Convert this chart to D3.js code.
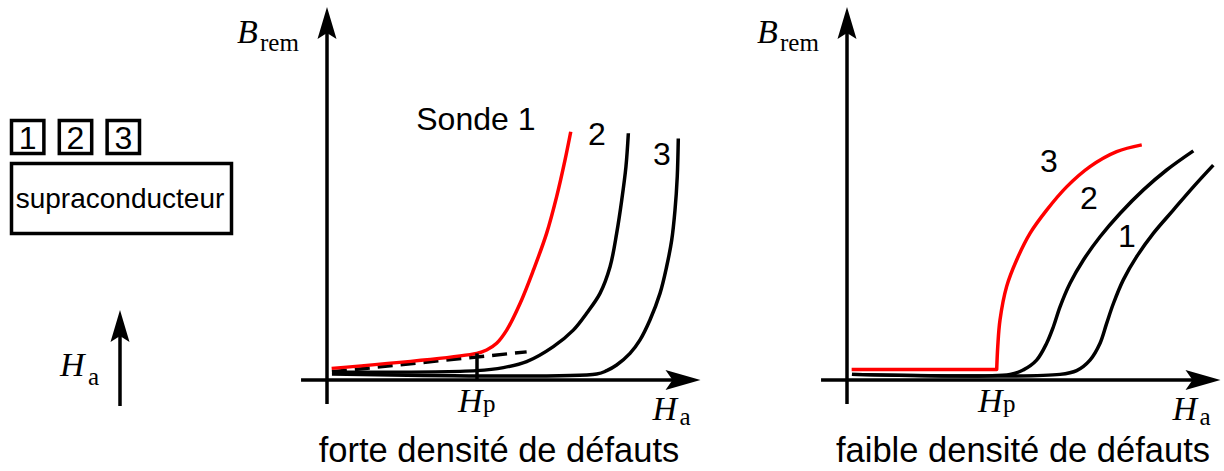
<!DOCTYPE html>
<html><head><meta charset="utf-8">
<script src="https://cdn.jsdelivr.net/npm/d3@7"></script>
<style>html,body{margin:0;padding:0;background:#fff;} svg{display:block}</style>
</head><body>
<svg id="c" width="1224" height="471"></svg>
<script>
// ---------- data ----------
const panelTitles = ["forte densité de défauts", "faible densité de défauts"];
const probeNames = ["1", "2", "3"];
const sampleLabel = "supraconducteur";
const curveLabelsForte = ["Sonde 1", "2", "3"];
const curveLabelsFaible = ["3", "2", "1"];
const HpValue = 1;

// left panel: strong pinning (H in units of Hp, B_rem arbitrary 0..100)
const forte1H = [0.031, 0.998, 1.064, 1.131, 1.198, 1.287, 1.376, 1.464, 1.531, 1.587, 1.625];
const forte1B = [3.1, 7.1, 8.0, 9.8, 13.3, 20.4, 29.3, 39.1, 48.9, 58.7, 66.2];
const forte2H = [0.033, 0.998, 1.176, 1.331, 1.509, 1.642, 1.731, 1.82, 1.887, 1.931, 1.965, 1.993, 2.009];
const forte2B = [2.1, 2.5, 3.3, 4.9, 8.9, 13.3, 17.8, 23.1, 30.2, 39.1, 48.0, 56.9, 65.8];
const forte3H = [0.033, 1.798, 1.865, 1.931, 2.02, 2.087, 2.153, 2.22, 2.264, 2.298, 2.32, 2.335, 2.342];
const forte3B = [1.6, 1.6, 2.5, 4.0, 7.1, 10.7, 16.0, 23.1, 30.2, 37.3, 45.3, 54.2, 64.4];
const forteLinH = [0.033, 1.331];
const forteLinB = [2.2, 7.5];

// right panel: weak pinning
const faible3H = [0.031, 0.998, 1.005, 1.02, 1.064, 1.131, 1.22, 1.331, 1.464, 1.62, 1.798, 1.965];
const faible3B = [2.8, 2.8, 8.9, 16.0, 24.9, 32.0, 39.1, 45.3, 51.5, 56.9, 60.9, 62.7];
const faible2H = [0.033, 1.087, 1.176, 1.264, 1.331, 1.376, 1.42, 1.487, 1.576, 1.687, 1.82, 1.976, 2.131, 2.309];
const faible2B = [1.5, 1.5, 2.7, 5.3, 9.8, 14.2, 19.5, 25.8, 32.0, 38.2, 44.4, 50.7, 56.0, 61.1];
const faible1H = [0.033, 1.42, 1.531, 1.62, 1.687, 1.731, 1.776, 1.842, 1.931, 2.042, 2.175, 2.309, 2.442];
const faible1B = [1.5, 1.5, 2.5, 5.3, 9.8, 15.1, 20.4, 26.7, 32.9, 39.1, 45.3, 51.5, 57.3];

// ---------- drawing ----------
const svg = d3.select("#c");
const RED = "#ff0000";
const SANS = "'Liberation Sans', Arial, sans-serif";
const SERIF = "'Liberation Serif', 'Times New Roman', serif";
const SW = 3.5;

const zip = (xs, ys) => xs.map((x, i) => [x, ys[i]]);

function stealthRight(tx, ty) {
  return `M${tx},${ty} L${tx-35},${ty-10} L${tx-28},${ty} L${tx-35},${ty+10} Z`;
}
function stealthUp(tx, ty) {
  return `M${tx},${ty} L${tx-9.5},${ty+32} L${tx},${ty+26} L${tx+9.5},${ty+32} Z`;
}

function mathLabel(g, x, y, main, sub, dx, dy) {
  g.append("text").attr("x", x).attr("y", y)
    .attr("font-family", SERIF).attr("font-style", "italic").attr("font-size", 34)
    .text(main);
  g.append("text").attr("x", x + dx).attr("y", y + dy)
    .attr("font-family", SERIF).attr("font-size", 25)
    .text(sub);
}

function panel(x0, title, titleCx, series, labels, dashed) {
  const x = d3.scaleLinear().domain([0, 2.5]).range([x0, x0 + 375]);
  const y = d3.scaleLinear().domain([0, 100]).range([380, 5]);
  const g = svg.append("g");

  // axes
  g.append("line").attr("x1", x(-0.173)).attr("x2", x(2.49) - 25)
    .attr("y1", y(0)).attr("y2", y(0)).attr("stroke", "#000").attr("stroke-width", SW);
  g.append("path").attr("d", stealthRight(x(2.49), y(0))).attr("fill", "#000");
  g.append("line").attr("x1", x(0)).attr("x2", x(0))
    .attr("y1", y(-6.4)).attr("y2", y(99.5) + 22).attr("stroke", "#000").attr("stroke-width", SW);
  g.append("path").attr("d", stealthUp(x(0), y(99.5))).attr("fill", "#000");

  const line = d3.line().x(d => x(d[0])).y(d => y(d[1])).curve(d3.curveCatmullRom.alpha(0.5));

  if (dashed) {
    g.append("path").attr("d", d3.line().x(d => x(d[0])).y(d => y(d[1]))(dashed))
      .attr("fill", "none").attr("stroke", "#000").attr("stroke-width", SW)
      .attr("stroke-dasharray", "15,8");
  }
  series.forEach(s => {
    let d;
    if (s.step) {
      const lin = d3.line().x(p => x(p[0])).y(p => y(p[1]));
      d = lin(s.pts.slice(0, 2)) + line(s.pts.slice(1)).replace(/^M[^A-Z]*/, m => "L" + m.slice(1));
    } else d = line(s.pts);
    g.append("path").attr("d", d).attr("fill", "none")
      .attr("stroke", s.color).attr("stroke-width", SW).attr("stroke-linejoin", "round");
  });

  labels.forEach(l => {
    g.append("text").attr("x", x(l.h)).attr("y", y(l.b))
      .attr("font-family", SANS).attr("font-size", 32).text(l.t);
  });

  // labels
  mathLabel(g, x(-0.6), y(90), "B", "rem", 23, 8);
  mathLabel(g, x(HpValue) - 19, 412, "H", "p", 25, 0);
  mathLabel(g, x(2.17), 420, "H", "a", 27, 5);

  g.append("text").attr("x", titleCx).attr("y", 462).attr("text-anchor", "middle")
    .attr("font-family", SANS).attr("font-size", 34.5).text(title);
  return {g, x, y};
}

// left panel
const L = panel(327, panelTitles[0], 499, [
  {pts: zip(forte3H, forte3B), color: "#000"},
  {pts: zip(forte2H, forte2B), color: "#000"},
  {pts: zip(forte1H, forte1B), color: RED}
], [
  {t: curveLabelsForte[0], h: 0.595, b: 66.7},
  {t: curveLabelsForte[1], h: 1.74, b: 62.7},
  {t: curveLabelsForte[2], h: 2.173, b: 57.3}
], zip(forteLinH, forteLinB));
// Hp tick on left panel
L.g.append("line").attr("x1", L.x(HpValue)).attr("x2", L.x(HpValue))
  .attr("y1", L.y(0)).attr("y2", L.y(forte1B[1])).attr("stroke", "#000").attr("stroke-width", SW);

// right panel
panel(847, panelTitles[1], 1023, [
  {pts: zip(faible1H, faible1B), color: "#000"},
  {pts: zip(faible2H, faible2B), color: "#000"},
  {pts: zip(faible3H, faible3B), color: RED, step: true}
], [
  {t: curveLabelsFaible[0], h: 1.287, b: 55.5},
  {t: curveLabelsFaible[1], h: 1.553, b: 45.6},
  {t: curveLabelsFaible[2], h: 1.807, b: 35.5}
], null);

// schematic on the left
const sg = svg.append("g");
const boxX = d3.scaleBand().domain(probeNames).range([10, 141]).paddingInner(0.26);
probeNames.forEach(p => {
  sg.append("rect").attr("x", boxX(p) + 1.5).attr("y", 120.5).attr("width", boxX.bandwidth() - 3).attr("height", 33)
    .attr("fill", "none").attr("stroke", "#000").attr("stroke-width", SW);
  sg.append("text").attr("x", boxX(p) + boxX.bandwidth() / 2).attr("y", 149)
    .attr("text-anchor", "middle").attr("font-family", SANS).attr("font-size", 32).text(p);
});
sg.append("rect").attr("x", 11.5).attr("y", 163.5).attr("width", 220).attr("height", 70)
  .attr("fill", "none").attr("stroke", "#000").attr("stroke-width", SW);
sg.append("text").attr("x", 120).attr("y", 208).attr("text-anchor", "middle")
  .attr("font-family", SANS).attr("font-size", 28).text(sampleLabel);
sg.append("line").attr("x1", 120).attr("x2", 120).attr("y1", 406).attr("y2", 330)
  .attr("stroke", "#000").attr("stroke-width", SW);
sg.append("path").attr("d", stealthUp(120, 310)).attr("fill", "#000");
mathLabel(sg, 60, 376, "H", "a", 28, 9);
</script>
</body></html>
